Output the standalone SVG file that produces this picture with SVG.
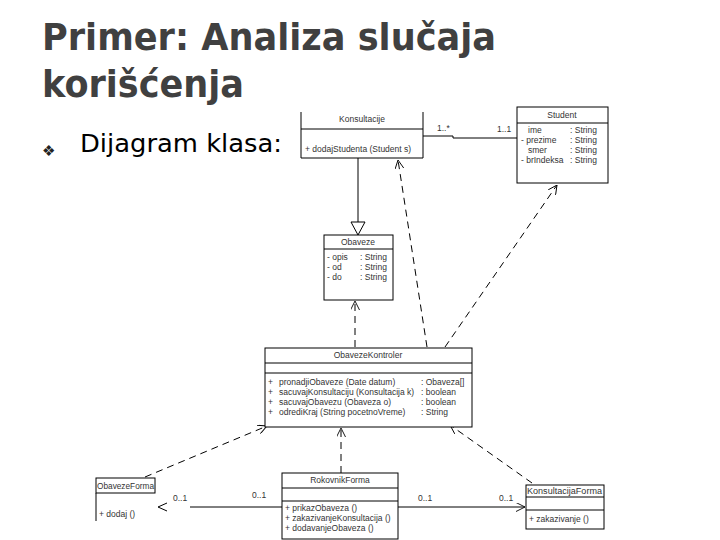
<svg xmlns="http://www.w3.org/2000/svg" width="720" height="540" viewBox="0 0 720 540">
<defs>
<marker id="open" viewBox="0 0 10 10" refX="10" refY="5" markerWidth="9" markerHeight="9" orient="auto" markerUnits="userSpaceOnUse">
<path d="M0,0 L10,5 L0,10" fill="none" stroke="#000" stroke-width="1"/>
</marker>
</defs>
<style>
.t{font-family:"DejaVu Sans","Liberation Sans",sans-serif;font-weight:bold;fill:#404040;font-size:38px}
.s{font-family:"DejaVu Sans","Liberation Sans",sans-serif;fill:#000;font-size:25px}
.u{font-family:"Liberation Sans",Arial,sans-serif;font-size:8.5px;fill:#333}
.c{text-anchor:middle}
.b{fill:#fff;stroke:#000;stroke-width:1}
.l{fill:none;stroke:#000;stroke-width:1}
.d{fill:none;stroke:#000;stroke-width:1;stroke-dasharray:7,5}
</style>
<rect width="720" height="540" fill="#fff"/>
<text class="t" x="42" y="50" textLength="454" lengthAdjust="spacingAndGlyphs">Primer: Analiza slučaja</text>
<text class="t" x="42" y="97" textLength="202" lengthAdjust="spacingAndGlyphs">korišćenja</text>
<text x="42" y="156" font-family="DejaVu Sans,sans-serif" font-size="15" fill="#222">❖</text>
<text class="s" x="80" y="152" textLength="202" lengthAdjust="spacingAndGlyphs">Dijagram klasa:</text>

<g id="connectors">
<line class="l" x1="358" y1="158" x2="358" y2="222"/>
<path class="b" d="M351,222 L365,222 L358,235 Z"/>
<polyline class="l" points="423,136 453,136 453,138 517,138"/>
<line class="d" x1="427" y1="347" x2="398" y2="160" marker-end="url(#open)"/>
<line class="d" x1="445" y1="347" x2="557" y2="185" marker-end="url(#open)"/>
<line class="d" x1="355" y1="347" x2="355" y2="301" marker-end="url(#open)"/>
<line class="d" x1="145" y1="477" x2="267" y2="426" marker-end="url(#open)"/>
<line class="d" x1="341" y1="473" x2="341" y2="428" marker-end="url(#open)"/>
<line class="d" x1="532" y1="483" x2="450" y2="425" marker-end="url(#open)"/>
<line class="l" x1="190" y1="507" x2="282" y2="507"/>
<polyline class="l" points="167,503 158,507 167,511"/>
<line class="l" x1="398" y1="507" x2="525" y2="507" marker-end="url(#open)"/>
<text class="u" x="437" y="131">1..*</text>
<text class="u" x="497" y="132">1..1</text>
<text class="u" x="173" y="501">0..1</text>
<text class="u" x="252" y="498">0..1</text>
<text class="u" x="418" y="501">0..1</text>
<text class="u" x="499" y="501">0..1</text>
</g>

<g id="konsultacije">
<path class="b" d="M301,112 L301,158 L423,158 L423,112"/>
<line class="l" x1="301" y1="129" x2="423" y2="129"/>
<text class="u c" x="362" y="122">Konsultacije</text>
<text class="u" x="305" y="152">+  dodajStudenta (Student s)</text>
</g>

<g id="student">
<rect class="b" x="517" y="107" width="91" height="76"/>
<line class="l" x1="517" y1="123" x2="608" y2="123"/>
<text class="u c" x="562" y="118">Student</text>
<text class="u" x="528" y="133">ime</text><text class="u" x="570" y="133">: String</text>
<text class="u" x="521" y="143">-  prezime</text><text class="u" x="570" y="143">: String</text>
<text class="u" x="528" y="153">smer</text><text class="u" x="570" y="153">: String</text>
<text class="u" x="521" y="163">-  brIndeksa</text><text class="u" x="570" y="163">: String</text>
</g>

<g id="obaveze">
<rect class="b" x="324" y="235" width="69" height="65"/>
<line class="l" x1="324" y1="249" x2="393" y2="249"/>
<text class="u c" x="358" y="245">Obaveze</text>
<text class="u" x="327" y="260">-  opis</text><text class="u" x="360" y="260">: String</text>
<text class="u" x="327" y="270">-  od</text><text class="u" x="360" y="270">: String</text>
<text class="u" x="327" y="280">-  do</text><text class="u" x="360" y="280">: String</text>
</g>

<g id="obavezeKontroler">
<rect class="b" x="265" y="348" width="207" height="79"/>
<line class="l" x1="265" y1="363" x2="472" y2="363"/>
<line class="l" x1="265" y1="373" x2="472" y2="373"/>
<text class="u c" x="368" y="358">ObavezeKontroler</text>
<text class="u" x="268" y="385">+</text><text class="u" x="279" y="385">pronadjiObaveze (Date datum)</text><text class="u" x="421" y="385">: Obaveza[]</text>
<text class="u" x="268" y="395">+</text><text class="u" x="279" y="395">sacuvajKonsultaciju (Konsultacija k)</text><text class="u" x="421" y="395">: boolean</text>
<text class="u" x="268" y="405">+</text><text class="u" x="279" y="405">sacuvajObavezu (Obaveza o)</text><text class="u" x="421" y="405">: boolean</text>
<text class="u" x="268" y="415">+</text><text class="u" x="279" y="415">odrediKraj (String pocetnoVreme)</text><text class="u" x="421" y="415">: String</text>
</g>

<g id="obavezeForma">
<rect class="b" x="96" y="478" width="59" height="15"/>
<line class="l" x1="96" y1="493" x2="96" y2="521"/>
<text class="u" x="97" y="489" textLength="57" lengthAdjust="spacingAndGlyphs">ObavezeForma</text>
<text class="u" x="99" y="517">+  dodaj ()</text>
</g>

<g id="rokovnikForma">
<rect class="b" x="282" y="473" width="116" height="66"/>
<line class="l" x1="282" y1="488" x2="398" y2="488"/>
<line class="l" x1="282" y1="501" x2="398" y2="501"/>
<text class="u c" x="340" y="483">RokovnikForma</text>
<text class="u" x="285" y="511">+  prikazObaveza ()</text>
<text class="u" x="285" y="521">+  zakazivanjeKonsultacija ()</text>
<text class="u" x="285" y="531">+  dodavanjeObaveza ()</text>
</g>

<g id="konsultacijaForma">
<rect class="b" x="526" y="485" width="78" height="44"/>
<line class="l" x1="526" y1="497" x2="604" y2="497"/>
<line class="l" x1="526" y1="510" x2="604" y2="510"/>
<text class="u" x="527" y="494" textLength="75" lengthAdjust="spacingAndGlyphs">KonsultacijaForma</text>
<text class="u" x="529" y="522">+  zakazivanje ()</text>
</g>
</svg>
